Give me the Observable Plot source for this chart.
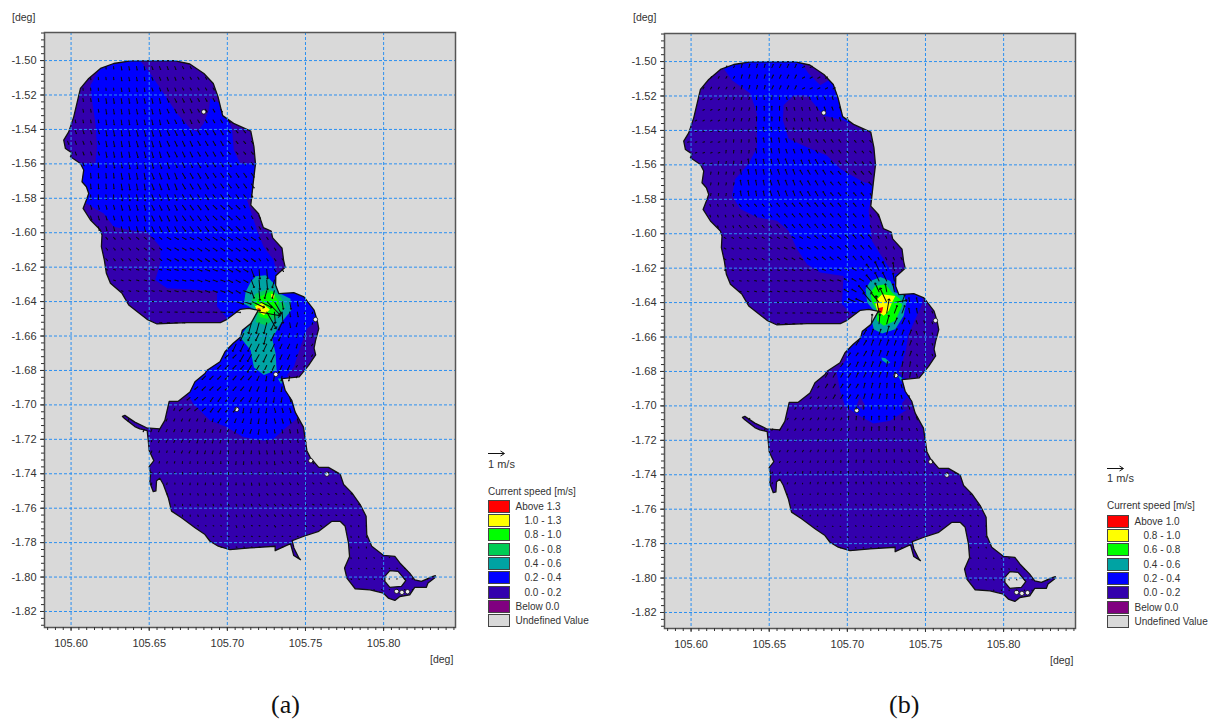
<!DOCTYPE html>
<html><head><meta charset="utf-8">
<script src="https://cdn.jsdelivr.net/npm/d3@7"></script>
<script src="https://cdn.jsdelivr.net/npm/@observablehq/plot@0.6"></script>
<style>
html,body{margin:0;padding:0;background:#fff}
#page{position:relative;width:1215px;height:722px;overflow:hidden;font-family:"Liberation Sans",Arial,sans-serif;color:#333}
#page svg{position:absolute;background:transparent;overflow:visible}
.t{position:absolute;white-space:pre;line-height:1}
.sw{position:absolute;width:20px;height:11px;border:1.5px solid #444}
.cap{position:absolute;font-family:"Liberation Serif",serif;font-size:26px;color:#111;line-height:1}
</style></head><body><div id="page"></div>
<script>
const lonTicks=[105.60,105.65,105.70,105.75,105.80];
const latTicks=[-1.50,-1.52,-1.54,-1.56,-1.58,-1.60,-1.62,-1.64,-1.66,-1.68,-1.70,-1.72,-1.74,-1.76,-1.78,-1.80,-1.82];
const lonDomain=[105.583,105.846];
const latDomain=[-1.8293,-1.4837];
const colors={c0:"#3300ad",c2:"#0000ff",c4:"#00a3a3",c6:"#00cc55",c8:"#00ff00",c10:"#ffff00",c13:"#ff0000",below:"#800080",undef:"#d9d9d9"};

const lake=[[105.638,-1.5002],[105.666,-1.5],[105.676,-1.502],[105.685,-1.5075],[105.691,-1.5133],[105.694,-1.521],[105.697,-1.532],[105.704,-1.5365],[105.715,-1.541],[105.717,-1.55],[105.718,-1.56],[105.7165,-1.5715],[105.715,-1.584],[105.72,-1.589],[105.723,-1.597],[105.728,-1.599],[105.729,-1.603],[105.735,-1.609],[105.736,-1.616],[105.737,-1.62],[105.731,-1.625],[105.7309,-1.6305],[105.733,-1.6354],[105.7425,-1.6348],[105.749,-1.6373],[105.7555,-1.645],[105.7575,-1.651],[105.7585,-1.6557],[105.7565,-1.6624],[105.7555,-1.667],[105.7565,-1.671],[105.752,-1.677],[105.746,-1.6837],[105.735,-1.6847],[105.737,-1.6915],[105.7412,-1.6973],[105.7434,-1.7042],[105.7487,-1.7129],[105.7509,-1.7266],[105.753,-1.7305],[105.7585,-1.7363],[105.7647,-1.7363],[105.7722,-1.7402],[105.7744,-1.7462],[105.7797,-1.7511],[105.785,-1.7579],[105.7888,-1.7647],[105.7892,-1.7753],[105.7924,-1.7821],[105.7998,-1.7874],[105.8072,-1.788],[105.8104,-1.7918],[105.8167,-1.7977],[105.8199,-1.8016],[105.8242,-1.8025],[105.8316,-1.7996],[105.8331,-1.7992],[105.8326,-1.8006],[105.8284,-1.8035],[105.8273,-1.806],[105.8199,-1.806],[105.8167,-1.8103],[105.8104,-1.8113],[105.8072,-1.8136],[105.803,-1.8122],[105.7998,-1.8093],[105.7913,-1.8074],[105.7818,-1.8068],[105.7765,-1.8006],[105.775,-1.7948],[105.7782,-1.788],[105.7775,-1.7802],[105.7754,-1.7705],[105.7722,-1.7676],[105.7669,-1.7676],[105.7585,-1.7734],[105.749,-1.7763],[105.7415,-1.7788],[105.7426,-1.7831],[105.7458,-1.7889],[105.7468,-1.7899],[105.7425,-1.7875],[105.7404,-1.7806],[105.7306,-1.7847],[105.7306,-1.7821],[105.7145,-1.7831],[105.7017,-1.7841],[105.6942,-1.7821],[105.6889,-1.7792],[105.6857,-1.7753],[105.6793,-1.7714],[105.6707,-1.7656],[105.6643,-1.7617],[105.6622,-1.7539],[105.659,-1.7461],[105.6568,-1.7426],[105.6547,-1.7441],[105.6543,-1.75],[105.6526,-1.7504],[105.6504,-1.7451],[105.6509,-1.7398],[105.65,-1.7359],[105.653,-1.7324],[105.65,-1.7266],[105.6494,-1.7207],[105.6487,-1.7149],[105.644,-1.7139],[105.6408,-1.7126],[105.6344,-1.7081],[105.6329,-1.7067],[105.6344,-1.7061],[105.6408,-1.71],[105.6483,-1.7133],[105.6568,-1.7139],[105.66,-1.709],[105.6628,-1.6979],[105.6686,-1.6979],[105.6761,-1.6925],[105.6793,-1.6866],[105.6857,-1.6818],[105.6868,-1.68],[105.6953,-1.6749],[105.6985,-1.6691],[105.7038,-1.6642],[105.7085,-1.6605],[105.7096,-1.6566],[105.715,-1.6528],[105.7196,-1.6454],[105.7211,-1.6453],[105.7136,-1.6439],[105.7083,-1.6445],[105.6998,-1.6503],[105.6955,-1.6522],[105.6742,-1.6522],[105.655,-1.653],[105.6486,-1.6503],[105.6422,-1.6458],[105.6369,-1.642],[105.6326,-1.6352],[105.6252,-1.6294],[105.6226,-1.6236],[105.6213,-1.6159],[105.6194,-1.6081],[105.6198,-1.6014],[105.6188,-1.5985],[105.6124,-1.5926],[105.6077,-1.5859],[105.6098,-1.581],[105.6113,-1.5772],[105.6098,-1.5733],[105.607,-1.5704],[105.6081,-1.5636],[105.606,-1.5598],[105.5996,-1.5559],[105.6006,-1.5536],[105.5964,-1.5511],[105.5953,-1.5462],[105.5985,-1.5414],[105.6017,-1.5327],[105.606,-1.5162],[105.6113,-1.5104],[105.6188,-1.5046],[105.6273,-1.5017],[105.638,-1.5002]];
const bigIsland=[[105.8008,-1.7996],[105.804,-1.7963],[105.8093,-1.7967],[105.8142,-1.8021],[105.8114,-1.8054],[105.804,-1.806],[105.8008,-1.8025],[105.8008,-1.7996]];
const smallIslands=[[105.6849,-1.5298],[105.731,-1.6823],[105.706,-1.7026],[105.7534,-1.7324],[105.7637,-1.7402],[105.8083,-1.8083],[105.8117,-1.8089],[105.8153,-1.8085],[105.7564,-1.6504]];

const blueA=[[105.6422,-1.4988],[105.6198,-1.5027],[105.6124,-1.5143],[105.6134,-1.523],[105.6156,-1.5366],[105.6166,-1.5501],[105.6156,-1.5598],[105.6049,-1.5598],[105.606,-1.581],[105.6209,-1.5888],[105.6273,-1.5965],[105.638,-1.5985],[105.6486,-1.5994],[105.6571,-1.6081],[105.6571,-1.6178],[105.6539,-1.6275],[105.6614,-1.6323],[105.6827,-1.6333],[105.6934,-1.6342],[105.6934,-1.6429],[105.6998,-1.6497],[105.705,-1.655],[105.68,-1.68],[105.672,-1.6925],[105.675,-1.6944],[105.6782,-1.6993],[105.6889,-1.709],[105.6996,-1.7129],[105.7103,-1.7188],[105.7231,-1.7207],[105.7295,-1.7198],[105.738,-1.7129],[105.7444,-1.7081],[105.7466,-1.6973],[105.7402,-1.6866],[105.7383,-1.6827],[105.7426,-1.6779],[105.7468,-1.6663],[105.7511,-1.6557],[105.7564,-1.6518],[105.7596,-1.6489],[105.7617,-1.6354],[105.75,-1.63],[105.7318,-1.624],[105.7296,-1.6159],[105.7232,-1.6081],[105.719,-1.5985],[105.7147,-1.5868],[105.7126,-1.581],[105.719,-1.5791],[105.72,-1.5598],[105.7083,-1.5598],[105.7041,-1.552],[105.703,-1.5395],[105.6998,-1.5337],[105.6955,-1.525],[105.6891,-1.5221],[105.6881,-1.5288],[105.6849,-1.5366],[105.6806,-1.5414],[105.6763,-1.5395],[105.6678,-1.5308],[105.6593,-1.5191],[105.6507,-1.5075],[105.6444,-1.5002],[105.6422,-1.4988]];
const tealA=[[105.7149,-1.6286],[105.7181,-1.6253],[105.7245,-1.6247],[105.7309,-1.6305],[105.734,-1.6354],[105.7404,-1.6383],[105.7409,-1.645],[105.734,-1.6528],[105.7287,-1.6615],[105.7309,-1.6702],[105.7315,-1.6798],[105.7234,-1.6827],[105.717,-1.6783],[105.7149,-1.6682],[105.7081,-1.6605],[105.7149,-1.6518],[105.7191,-1.6454],[105.7106,-1.6412],[105.7117,-1.6344],[105.7149,-1.6286]];
const tealA2=[[105.7323,-1.6847],[105.7357,-1.6847],[105.7345,-1.688],[105.7323,-1.6847]];
const green6A=[[105.7149,-1.6402],[105.7181,-1.6354],[105.7266,-1.6325],[105.734,-1.6367],[105.7372,-1.6431],[105.7309,-1.6498],[105.7245,-1.6537],[105.7181,-1.6518],[105.7196,-1.6458],[105.7149,-1.6402]];
const green8A=[[105.717,-1.6412],[105.7213,-1.6369],[105.7287,-1.6338],[105.733,-1.6402],[105.7309,-1.646],[105.7255,-1.6499],[105.7209,-1.6489],[105.7196,-1.6454],[105.717,-1.6412]];
const yellowA1=[[105.7177,-1.6427],[105.7223,-1.6408],[105.7272,-1.6446],[105.7234,-1.6479],[105.7191,-1.6454],[105.7177,-1.6427]];
const yellowA2=[[105.7281,-1.6354],[105.7302,-1.636],[105.7298,-1.6383],[105.7281,-1.6377],[105.7281,-1.6354]];
const redA=[[105.7191,-1.6437],[105.7213,-1.6441],[105.7209,-1.646],[105.7191,-1.6437]];

const blueB=[[105.6209,-1.4992],[105.6209,-1.5041],[105.6262,-1.5109],[105.6379,-1.5186],[105.6422,-1.5303],[105.6422,-1.5497],[105.6369,-1.5594],[105.6283,-1.5682],[105.6262,-1.5779],[105.6315,-1.5856],[105.6422,-1.5905],[105.655,-1.5924],[105.6624,-1.5983],[105.6678,-1.6089],[105.6742,-1.6177],[105.6827,-1.6225],[105.6976,-1.6245],[105.6965,-1.641],[105.7029,-1.6468],[105.7125,-1.6452],[105.705,-1.655],[105.7006,-1.6658],[105.6989,-1.6736],[105.6932,-1.6804],[105.6953,-1.6911],[105.6985,-1.6999],[105.706,-1.7048],[105.7167,-1.7102],[105.7274,-1.7087],[105.737,-1.7028],[105.7412,-1.7009],[105.7444,-1.6989],[105.7402,-1.6872],[105.7327,-1.6804],[105.737,-1.6697],[105.7392,-1.6584],[105.7445,-1.6477],[105.7477,-1.641],[105.7487,-1.6352],[105.75,-1.63],[105.737,-1.622],[105.7296,-1.6235],[105.721,-1.6118],[105.7157,-1.6041],[105.7136,-1.5866],[105.7168,-1.573],[105.7189,-1.572],[105.7104,-1.5701],[105.6955,-1.5623],[105.6869,-1.5546],[105.6742,-1.5497],[105.6624,-1.5449],[105.6588,-1.5342],[105.6592,-1.5254],[105.6656,-1.5196],[105.6742,-1.5196],[105.6848,-1.5313],[105.6976,-1.5342],[105.7018,-1.5361],[105.6997,-1.5264],[105.6933,-1.5089],[105.688,-1.5109],[105.6827,-1.5138],[105.6752,-1.507],[105.671,-1.5012],[105.671,-1.4983],[105.6209,-1.4992]];
const purpleB1=[[105.7060,-1.6996],[105.7081,-1.6946],[105.7114,-1.6996],[105.7103,-1.7025],[105.7060,-1.6996]];
const purpleB2=[[105.7349,-1.6985],[105.7382,-1.6951],[105.7423,-1.6992],[105.7402,-1.7022],[105.7358,-1.7022],[105.7349,-1.6985]];
const tealB=[[105.7117,-1.6323],[105.7148,-1.6274],[105.7212,-1.6251],[105.7275,-1.6274],[105.7307,-1.6342],[105.736,-1.6352],[105.7377,-1.64],[105.736,-1.6477],[105.7307,-1.6555],[105.7222,-1.658],[105.7169,-1.6555],[105.7159,-1.6516],[105.718,-1.6458],[105.7127,-1.64],[105.7117,-1.6323]];
const tealB2=[[105.7218,-1.6719],[105.7244,-1.6723],[105.7275,-1.6749],[105.7254,-1.6755],[105.7222,-1.6735],[105.7218,-1.6719]];
const tealB3=[[105.7325,-1.6825],[105.735,-1.6835],[105.7345,-1.686],[105.7325,-1.6825]];
const limeB=[[105.7148,-1.6342],[105.718,-1.6303],[105.7244,-1.6294],[105.7286,-1.6342],[105.7339,-1.6381],[105.735,-1.6419],[105.7307,-1.6506],[105.7233,-1.6535],[105.7191,-1.6506],[105.7191,-1.6448],[105.7159,-1.64],[105.7148,-1.6342]];
const yellowB=[[105.7191,-1.6381],[105.7222,-1.6352],[105.7307,-1.6361],[105.7286,-1.64],[105.7265,-1.6448],[105.7233,-1.6477],[105.7191,-1.6448],[105.718,-1.641],[105.7191,-1.6381]];
const redB=[[105.7195,-1.6433],[105.7229,-1.6425],[105.7222,-1.6458],[105.7208,-1.6464],[105.7195,-1.6433]];

// sampled current vectors: lon, lat, speed (m/s), bearing (deg clockwise from north)
const vectorsA=[[105.62,-1.51,.15,175],[105.64,-1.51,.22,170],[105.66,-1.51,.2,160],[105.68,-1.51,.15,150],[105.61,-1.53,.18,170],[105.63,-1.53,.3,172],[105.65,-1.53,.3,168],[105.67,-1.53,.25,155],[105.69,-1.53,.2,150],[105.61,-1.55,.2,160],[105.63,-1.55,.34,170],[105.65,-1.55,.36,165],[105.67,-1.55,.34,155],[105.69,-1.55,.3,150],[105.71,-1.55,.18,140],[105.62,-1.57,.3,175],[105.64,-1.57,.38,170],[105.66,-1.57,.38,160],[105.68,-1.57,.36,150],[105.70,-1.57,.3,145],[105.62,-1.59,.25,165],[105.64,-1.59,.32,165],[105.66,-1.59,.34,155],[105.68,-1.59,.34,145],[105.70,-1.59,.33,135],[105.72,-1.59,.18,150],[105.63,-1.61,.16,140],[105.65,-1.61,.18,130],[105.67,-1.61,.26,120],[105.69,-1.61,.3,125],[105.71,-1.61,.3,125],[105.73,-1.61,.16,145],[105.63,-1.63,.12,110],[105.65,-1.63,.15,105],[105.67,-1.63,.22,105],[105.69,-1.63,.28,110],[105.705,-1.63,.3,120],[105.645,-1.645,.1,95],[105.665,-1.645,.15,92],[105.685,-1.645,.24,95],[105.70,-1.645,.28,95],[105.716,-1.632,.5,160],[105.722,-1.632,.6,175],[105.728,-1.634,.5,195],[105.712,-1.638,.5,110],[105.718,-1.64,.9,115],[105.724,-1.64,1.2,135],[105.73,-1.64,.9,150],[105.736,-1.64,.5,170],[105.72,-1.6455,1.35,100],[105.726,-1.647,1.2,150],[105.732,-1.647,.7,175],[105.72,-1.652,.7,195],[105.726,-1.654,.7,195],[105.732,-1.654,.5,205],[105.716,-1.66,.5,205],[105.724,-1.664,.5,205],[105.718,-1.672,.48,210],[105.726,-1.675,.5,205],[105.74,-1.645,.3,170],[105.75,-1.645,.1,200],[105.745,-1.66,.25,195],[105.737,-1.667,.3,205],[105.75,-1.67,.12,215],[105.70,-1.68,.28,225],[105.69,-1.685,.3,225],[105.71,-1.685,.3,220],[105.72,-1.69,.3,205],[105.73,-1.69,.3,190],[105.68,-1.695,.25,230],[105.70,-1.70,.3,215],[105.72,-1.705,.3,190],[105.735,-1.705,.28,165],[105.71,-1.712,.25,200],[105.735,-1.713,.22,170],[105.67,-1.715,.15,205],[105.69,-1.72,.18,195],[105.71,-1.725,.18,185],[105.73,-1.725,.2,170],[105.745,-1.725,.15,160],[105.66,-1.735,.1,195],[105.68,-1.74,.12,185],[105.70,-1.74,.13,180],[105.72,-1.74,.15,170],[105.74,-1.74,.13,150],[105.76,-1.75,.1,130],[105.67,-1.755,.08,175],[105.69,-1.755,.1,165],[105.71,-1.76,.12,160],[105.73,-1.76,.12,140],[105.75,-1.76,.1,120],[105.77,-1.76,.08,120],[105.69,-1.775,.05,120],[105.72,-1.775,.06,110],[105.74,-1.775,.05,100],[105.785,-1.78,.07,170],[105.79,-1.80,.05,130],[105.81,-1.80,.02,90]];
const vectorsB=[[105.62,-1.51,.12,30],[105.64,-1.51,.22,15],[105.66,-1.51,.22,25],[105.68,-1.51,.15,60],[105.61,-1.53,.1,60],[105.63,-1.53,.16,15],[105.65,-1.53,.25,0],[105.67,-1.53,.18,345],[105.69,-1.53,.22,340],[105.61,-1.55,.1,70],[105.63,-1.55,.16,5],[105.65,-1.55,.28,350],[105.67,-1.55,.24,340],[105.69,-1.55,.2,325],[105.71,-1.55,.15,320],[105.62,-1.57,.14,10],[105.64,-1.57,.3,350],[105.66,-1.57,.32,340],[105.68,-1.57,.3,330],[105.70,-1.57,.24,320],[105.62,-1.59,.12,340],[105.64,-1.59,.18,320],[105.66,-1.59,.25,320],[105.68,-1.59,.28,320],[105.70,-1.59,.26,320],[105.72,-1.59,.15,330],[105.63,-1.61,.12,300],[105.65,-1.61,.14,300],[105.67,-1.61,.2,300],[105.69,-1.61,.25,310],[105.71,-1.61,.28,320],[105.73,-1.61,.15,335],[105.63,-1.63,.1,285],[105.65,-1.63,.12,285],[105.67,-1.63,.16,285],[105.69,-1.63,.2,290],[105.705,-1.63,.3,300],[105.645,-1.645,.08,275],[105.665,-1.645,.12,275],[105.685,-1.645,.18,275],[105.70,-1.645,.25,280],[105.715,-1.632,.5,320],[105.722,-1.63,.6,335],[105.727,-1.632,.5,350],[105.712,-1.64,.55,295],[105.718,-1.638,.8,320],[105.724,-1.637,1.0,335],[105.73,-1.638,.8,80],[105.735,-1.642,.5,20],[105.72,-1.645,1.1,350],[105.726,-1.645,.9,10],[105.732,-1.647,.5,20],[105.72,-1.652,.6,5],[105.726,-1.654,.55,15],[105.732,-1.654,.4,25],[105.74,-1.645,.3,350],[105.75,-1.645,.12,340],[105.745,-1.655,.2,340],[105.737,-1.662,.3,20],[105.75,-1.665,.1,340],[105.71,-1.665,.33,30],[105.72,-1.665,.35,20],[105.73,-1.668,.3,20],[105.70,-1.675,.22,35],[105.71,-1.68,.3,25],[105.72,-1.68,.32,20],[105.73,-1.68,.3,10],[105.70,-1.69,.26,30],[105.715,-1.695,.3,15],[105.73,-1.695,.28,5],[105.74,-1.695,.2,345],[105.71,-1.705,.22,5],[105.725,-1.705,.24,0],[105.675,-1.70,.12,35],[105.69,-1.71,.13,25],[105.67,-1.72,.11,30],[105.69,-1.725,.12,15],[105.71,-1.725,.15,5],[105.73,-1.725,.16,355],[105.745,-1.725,.14,340],[105.66,-1.74,.08,30],[105.68,-1.74,.1,10],[105.70,-1.74,.11,0],[105.72,-1.74,.11,350],[105.74,-1.74,.1,330],[105.76,-1.75,.08,310],[105.67,-1.755,.04,10],[105.69,-1.76,.06,350],[105.71,-1.76,.07,340],[105.73,-1.76,.07,320],[105.75,-1.76,.07,300],[105.77,-1.76,.07,300],[105.69,-1.775,.05,300],[105.72,-1.775,.04,290],[105.74,-1.775,.04,280],[105.785,-1.78,.05,340],[105.79,-1.80,.04,330]];

const gridLon=d3.range(105.5978,105.84,0.0049);
const gridLat=d3.range(-1.5035,-1.82,-0.0062);

const legendA=[["Above 1.3",colors.c13,0],["1.0 - 1.3",colors.c10,1],["0.8 - 1.0",colors.c8,1],["0.6 - 0.8",colors.c6,1],["0.4 - 0.6",colors.c4,1],["0.2 - 0.4",colors.c2,1],["0.0 - 0.2",colors.c0,1],["Below 0.0",colors.below,0],["Undefined Value",colors.undef,0]];
const legendB=[["Above 1.0",colors.c13,0],["0.8 - 1.0",colors.c10,1],["0.6 - 0.8",colors.c8,1],["0.4 - 0.6",colors.c4,1],["0.2 - 0.4",colors.c2,1],["0.0 - 0.2",colors.c0,1],["Below 0.0",colors.below,0],["Undefined Value",colors.undef,0]];

const regionsA=[[blueA,colors.c2],[tealA,colors.c4],[tealA2,colors.c4],[green6A,colors.c6],[green8A,colors.c8],[yellowA1,colors.c10],[yellowA2,colors.c10],[redA,colors.c13]];
const regionsB=[[blueB,colors.c2],[purpleB1,colors.c0],[purpleB2,colors.c0],[tealB,colors.c4],[tealB2,colors.c4],[tealB3,colors.c4],[limeB,colors.c8],[yellowB,colors.c10],[redB,colors.c13]];

const page=document.getElementById("page");
const px=d=>d[0], py=d=>d[1];
function field(samples){
  const out=[];
  for(const lat of gridLat)for(const lon of gridLon){
    if(!d3.polygonContains(lake,[lon,lat]))continue;
    let best=null,bd=Infinity;
    for(const s of samples){const dd=(s[0]-lon)**2+(s[1]-lat)**2;if(dd<bd){bd=dd;best=s;}}
    out.push({lon,lat,speed:best[2],bearing:best[3]});
  }
  return out;
}
function panel(id,regions,samples,left,top){
  const axisStyle={color:"#333",stroke:"#333",fontSize:11};
  const minorX=d3.range(105.585,105.846,0.005);
  const minorY=d3.range(-1.484,-1.8293,-0.004);
  const chart=Plot.plot({
    width:470,height:660,marginLeft:44,marginRight:15,marginTop:32,marginBottom:33,
    style:{fontFamily:"'Liberation Sans',Arial,sans-serif",fontSize:"11px",background:"transparent",color:"#333",overflow:"visible"},
    x:{domain:lonDomain},y:{domain:latDomain},
    length:{type:"linear",domain:[0,1],range:[0,16]},
    marks:[
      Plot.frame({fill:colors.undef}),
      Plot.line(lake,{x:px,y:py,fill:colors.c0,stroke:"none"}),
      ...regions.map(([poly,c])=>Plot.line(poly,{x:px,y:py,fill:c,stroke:"none"})),
      Plot.line(lake,{x:px,y:py,stroke:"#111",strokeWidth:1.3}),
      Plot.line(bigIsland,{x:px,y:py,fill:colors.undef,stroke:"#111",strokeWidth:1.3}),
      Plot.dot(smallIslands,{x:px,y:py,r:2.2,fill:"#eee",stroke:"#111",strokeWidth:0.8}),
      Plot.vector(field(samples),{x:"lon",y:"lat",length:"speed",rotate:"bearing",anchor:"start",stroke:"#0a0a0a",strokeWidth:1,r:1.4}),
      Plot.gridX(lonTicks,{stroke:"#2b8ff0",strokeOpacity:1,strokeWidth:1,strokeDasharray:"3,2"}),
      Plot.gridY(latTicks,{stroke:"#2b8ff0",strokeOpacity:1,strokeWidth:1,strokeDasharray:"3,2"}),
      Plot.frame({stroke:"#555",strokeWidth:1.5}),
      Plot.axisX(minorX,{anchor:"bottom",tickSize:3,tickFormat:()=>"",label:null,stroke:"#333"}),
      Plot.axisY(minorY,{anchor:"left",tickSize:3,tickFormat:()=>"",label:null,stroke:"#333"}),
      Plot.axisX(lonTicks,{anchor:"bottom",tickSize:4,tickPadding:8,tickFormat:d=>d.toFixed(2),label:null,...axisStyle}),
      Plot.axisY(latTicks,{anchor:"left",tickSize:4,tickPadding:4,tickFormat:d=>d.toFixed(2),label:null,...axisStyle})
    ]
  });
  chart.style.left=left+"px";chart.style.top=top+"px";
  // clip the contour bands to the lake outline drawn by the first line mark
  const ns="http://www.w3.org/2000/svg";
  const lines=[...chart.querySelectorAll('g[aria-label="line"]')];
  const lakePath=lines[0].querySelector("path");
  const cp=document.createElementNS(ns,"clipPath");cp.setAttribute("id","lakeclip-"+id);
  const p=document.createElementNS(ns,"path");p.setAttribute("d",lakePath.getAttribute("d"));cp.appendChild(p);
  const defs=document.createElementNS(ns,"defs");defs.appendChild(cp);chart.appendChild(defs);
  lines.slice(1,1+regions.length).forEach(g=>g.setAttribute("clip-path",`url(#lakeclip-${id})`));
  page.appendChild(chart);
}
function text(s,x,y,size,extra){
  const d=document.createElement("div");d.className="t";d.textContent=s;
  d.style.left=x+"px";d.style.top=(y-size/2)+"px";d.style.fontSize=size+"px";
  if(extra)Object.assign(d.style,extra);
  page.appendChild(d);return d;
}
function legend(items,x,titleY,firstY,arrowY){
  const a=document.createElementNS("http://www.w3.org/2000/svg","svg");
  a.setAttribute("width",20);a.setAttribute("height",9);a.style.left=x+"px";a.style.top=(arrowY-4)+"px";
  a.innerHTML='<path d="M0 4.5H16M12.5 2L16.5 4.5L12.5 7" fill="none" stroke="#111" stroke-width="1"/>';
  page.appendChild(a);
  text("1 m/s",x,arrowY+11,11);
  text("Current speed [m/s]",x,titleY,10);
  items.forEach(([label,c,indent],i)=>{
    const y=firstY+i*14.33;
    const s=document.createElement("div");s.className="sw";s.style.left=x+"px";s.style.top=(y-7)+"px";s.style.background=c;
    page.appendChild(s);
    text(label,x+(indent?36.5:27.5),y,10);
  });
}
panel("a",regionsA,vectorsA,0,0);
panel("b",regionsB,vectorsB,620,1);
legend(legendA,488,491.5,506.7,453);
legend(legendB,1107,506,521.7,467.7);
text("[deg]",12,17,10.5);text("[deg]",633,17,10.5);
text("[deg]",430,659,10.5);text("[deg]",1050,660,10.5);
[["(a)",271,692],["(b)",889,692]].forEach(([s,x,y])=>{
  const d=document.createElement("div");d.className="cap";d.textContent=s;d.style.left=x+"px";d.style.top=y+"px";page.appendChild(d);
});
</script></body></html>
